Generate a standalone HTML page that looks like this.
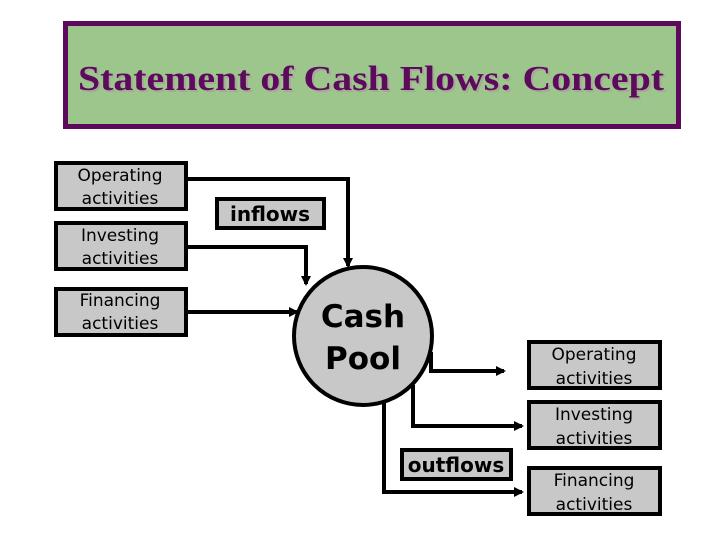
<!DOCTYPE html>
<html><head><style>html,body{margin:0;padding:0;background:#fff}</style></head>
<body>
<svg width="720" height="540" viewBox="0 0 720 540" xmlns="http://www.w3.org/2000/svg" font-family="'DejaVu Sans','Liberation Sans',sans-serif">
<defs>
<marker id="a" markerWidth="10" markerHeight="10" refX="8" refY="5" orient="auto" markerUnits="userSpaceOnUse"><path d="M0,0 L10,5 L0,10 z" fill="#000"/></marker>
</defs>
<rect x="65.5" y="23.5" width="613" height="103" fill="#9cc68c" stroke="#5c0a5c" stroke-width="5"/>
<text x="80" y="92" font-family="'Liberation Serif',serif" font-weight="bold" font-size="35" fill="#a8a898" textLength="586" lengthAdjust="spacingAndGlyphs">Statement of Cash Flows: Concept</text>
<text x="78" y="90" font-family="'Liberation Serif',serif" font-weight="bold" font-size="35" fill="#5c0a5c" textLength="586" lengthAdjust="spacingAndGlyphs">Statement of Cash Flows: Concept</text>
<g stroke="#000" stroke-width="4" fill="none">
<path d="M187,179 H348 V266" marker-end="url(#a)"/>
<path d="M187,247 H306 V284" marker-end="url(#a)"/>
<path d="M187,312 H297" marker-end="url(#a)"/>
<path d="M431,352 V371 H504" marker-end="url(#a)"/>
<path d="M413,385 V426 H522" marker-end="url(#a)"/>
<path d="M384,399 V492 H522" marker-end="url(#a)"/>
</g>
<circle cx="363" cy="336" r="69" fill="#c8c8c8" stroke="#000" stroke-width="4"/>
<g fill="#c8c8c8" stroke="#000" stroke-width="4">
<rect x="56" y="163" width="130" height="46"/>
<rect x="56" y="223" width="130" height="46"/>
<rect x="56" y="289" width="130" height="46"/>
<rect x="217" y="199" width="107" height="29"/>
<rect x="529" y="342" width="131" height="46"/>
<rect x="529" y="402" width="131" height="46"/>
<rect x="529" y="468" width="131" height="46"/>
<rect x="402" y="450" width="109" height="29"/>
</g>
<g font-size="17" text-anchor="middle" fill="#000">
<text x="120" y="181">Operating</text><text x="120" y="204">activities</text>
<text x="120" y="241">Investing</text><text x="120" y="264">activities</text>
<text x="120" y="306">Financing</text><text x="120" y="329">activities</text>
<text x="594" y="360">Operating</text><text x="594" y="384">activities</text>
<text x="594" y="420">Investing</text><text x="594" y="444">activities</text>
<text x="594" y="486">Financing</text><text x="594" y="510">activities</text>
<text x="270" y="221" font-size="20" font-weight="bold">inflows</text>
<text x="456" y="472" font-size="20" font-weight="bold">outflows</text>
<text x="363" y="327" font-size="31" font-weight="bold">Cash</text>
<text x="363" y="369" font-size="31" font-weight="bold">Pool</text>
</g>
</svg>
</body></html>
